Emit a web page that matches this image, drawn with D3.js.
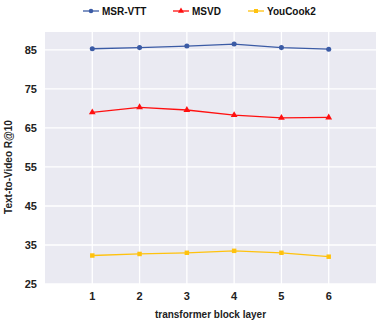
<!DOCTYPE html>
<html>
<head>
<meta charset="utf-8">
<script src="https://cdn.jsdelivr.net/npm/d3@7"></script>
<style>
  body { margin: 0; background: #fff; }
  svg { display: block; font-family: "Liberation Sans", Arial, sans-serif; }
</style>
</head>
<body>
<svg id="chart" width="382" height="325"></svg>
<script>
const layers = [1, 2, 3, 4, 5, 6];
const msrvtt = [85.3, 85.6, 86.0, 86.5, 85.6, 85.2];
const msvd = [69.0, 70.3, 69.6, 68.3, 67.6, 67.7];
const youcook = [32.3, 32.7, 33.0, 33.5, 33.0, 32.0];
const yTicks = [25, 35, 45, 55, 65, 75, 85];

const series = [
  { name: "MSR-VTT", values: msrvtt, color: "#3b5ba5", shape: d3.symbolCircle },
  { name: "MSVD", values: msvd, color: "#ff1010", shape: d3.symbolTriangle },
  { name: "YouCook2", values: youcook, color: "#ffc20e", shape: d3.symbolSquare }
];

const svg = d3.select("#chart");
const margin = { left: 45, right: 6, top: 32, bottom: 41 };
const W = 382, H = 325;

const x = d3.scaleLinear().domain([0, 7]).range([margin.left, W - margin.right]);
const y = d3.scaleLinear().domain([25, 89.6]).range([H - margin.bottom, margin.top]);

// plot background
svg.append("rect")
  .attr("x", x(0)).attr("y", y(89.6))
  .attr("width", x(7) - x(0)).attr("height", y(25) - y(89.6))
  .attr("fill", "#eaeaf2");

// grid
svg.append("g").selectAll("line").data(yTicks).enter().append("line")
  .attr("x1", x(0)).attr("x2", x(7))
  .attr("y1", d => y(d)).attr("y2", d => y(d))
  .attr("stroke", "#fff").attr("stroke-width", 1.3);
svg.append("g").selectAll("line").data(layers).enter().append("line")
  .attr("x1", d => x(d)).attr("x2", d => x(d))
  .attr("y1", y(25)).attr("y2", y(89.6))
  .attr("stroke", "#fff").attr("stroke-width", 1.3);

// tick labels
svg.append("g").selectAll("text").data(yTicks).enter().append("text")
  .attr("x", 37).attr("y", d => y(d) + 4)
  .attr("text-anchor", "end")
  .style("font-size", "11px").style("font-weight", "bold").attr("fill", "#222")
  .text(d => d);
svg.append("g").selectAll("text").data(layers).enter().append("text")
  .attr("x", d => x(d)).attr("y", 300)
  .attr("text-anchor", "middle")
  .style("font-size", "11px").style("font-weight", "bold").attr("fill", "#222")
  .text(d => d);

// axis titles
svg.append("text")
  .attr("x", x(3.5)).attr("y", 318)
  .attr("text-anchor", "middle")
  .style("font-size", "10px").style("font-weight", "bold").attr("fill", "#222")
  .text("transformer block layer");
svg.append("text")
  .attr("transform", "translate(12,167) rotate(-90)")
  .attr("text-anchor", "middle")
  .style("font-size", "10px").style("font-weight", "bold").attr("fill", "#222")
  .text("Text-to-Video R@10");

// lines and markers
const line = d3.line().x((d, i) => x(layers[i])).y(d => y(d));
series.forEach(s => {
  svg.append("path")
    .attr("d", line(s.values))
    .attr("fill", "none").attr("stroke", s.color).attr("stroke-width", 1.3);
  svg.append("g").selectAll("path").data(s.values).enter().append("path")
    .attr("transform", (d, i) => `translate(${x(layers[i])},${y(d)})`)
    .attr("d", d3.symbol().type(s.shape).size(20))
    .attr("fill", s.color);
});

// legend
const legendX = [83, 173, 248];
series.forEach((s, i) => {
  const g = svg.append("g").attr("transform", `translate(${legendX[i]},11)`);
  g.append("line").attr("x1", 0).attr("x2", 16)
    .attr("stroke", s.color).attr("stroke-width", 1.3);
  g.append("path").attr("transform", "translate(8,0)")
    .attr("d", d3.symbol().type(s.shape).size(16)).attr("fill", s.color);
  g.append("text").attr("x", 19).attr("y", 3.5)
    .style("font-size", "10px").style("font-weight", "bold").attr("fill", "#111")
    .text(s.name);
});
</script>
</body>
</html>
